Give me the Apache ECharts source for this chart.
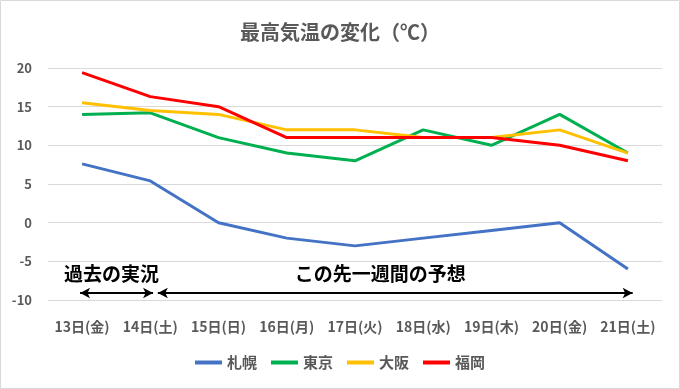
<!DOCTYPE html>
<html><head><meta charset="utf-8">
<script src="https://cdn.jsdelivr.net/npm/echarts@6/dist/echarts.min.js"></script>
<style>html,body{margin:0;padding:0;background:#fff}#c{width:680px;height:389px}</style>
</head><body><div id="c"></div>
<script>
const categories = ['13日(金)','14日(土)','15日(日)','16日(月)','17日(火)','18日(水)','19日(木)','20日(金)','21日(土)'];
const sapporo = [7.6, 5.4, 0, -2, -3, -2, -1, 0, -6];
const tokyo = [14, 14.2, 11, 9, 8, 12, 10, 14, 9];
const osaka = [15.5, 14.5, 14, 12, 12, 11, 11, 12, 9];
const fukuoka = [19.4, 16.3, 15, 11, 11, 11, 11, 10, 8];
const seriesNames = ['札幌','東京','大阪','福岡'];
const yTicks = {min: -10, max: 20, interval: 5};
// annotation spans, in category-index units (past observations / forecast)
const pastSpan = [-0.03, 1.04];
const forecastSpan = [1.11, 8.07];
const annotationTexts = ['過去の実況', 'この先一週間の予想'];

const colors = ['#4472C4','#00B050','#FFC000','#FF0000'];
const font = '"Noto Sans CJK JP", "Noto Sans", sans-serif';

const chart = echarts.init(document.getElementById('c'));
const dataSets = [sapporo, tokyo, osaka, fukuoka];
const series = dataSets.map((d, i) => ({
  name: seriesNames[i], type: 'line', data: d, symbol: 'none',
  lineStyle: {width: 3, color: colors[i]}, itemStyle: {color: colors[i]}, z: 3 + i
}));
// annotation carrier on a hidden value x-axis aligned to category centres
series.push({
  name: 'annot', type: 'scatter', xAxisIndex: 1, data: [], silent: true,
  markLine: {
    silent: true, symbol: ['arrow','arrow'], symbolSize: [8, 10],
    lineStyle: {color: '#000', width: 2, type: 'solid'}, label: {show: false},
    data: [
      [{coord: [pastSpan[0], -9.1]}, {coord: [pastSpan[1], -9.1]}],
      [{coord: [forecastSpan[0], -9.1]}, {coord: [forecastSpan[1], -9.1]}]
    ]
  },
  markPoint: {
    silent: true, symbol: 'circle', symbolSize: 0,
    label: {show: true, color: '#000', fontSize: 19, fontWeight: 'bold', fontFamily: font, position: 'inside', formatter: p => p.name},
    data: [
      {name: annotationTexts[0], coord: [0.43, -6.6]},
      {name: annotationTexts[1], coord: [4.37, -6.6]}
    ]
  }
});

chart.setOption({
  animation: false,
  title: {text: '最高気温の変化（℃）', left: 'center', top: 17,
    textStyle: {color: '#595959', fontSize: 20, fontWeight: 'bold', fontFamily: font}},
  legend: {bottom: 14, left: 'center', itemWidth: 27, itemHeight: 4, itemGap: 14, icon: 'rect',
    textStyle: {color: '#595959', fontSize: 15, fontWeight: 'bold', fontFamily: font},
    data: seriesNames},
  grid: {left: 48, right: 18, top: 68, bottom: 89},
  xAxis: [{type: 'category', data: categories, boundaryGap: true,
    axisLine: {show: false}, axisTick: {show: false},
    axisLabel: {color: '#595959', fontSize: 14, fontWeight: 'bold', fontFamily: font, margin: 20, interval: 0}},
    {type: 'value', min: -0.5, max: 8.5, show: false}],
  yAxis: {type: 'value', min: yTicks.min, max: yTicks.max, interval: yTicks.interval,
    axisLine: {show: false}, axisTick: {show: false},
    axisLabel: {color: '#595959', fontSize: 13, fontWeight: 'bold', fontFamily: font, margin: 16},
    splitLine: {lineStyle: {color: '#d9d9d9', width: 1}}},
  graphic: [{type: 'rect', shape: {x: 0.5, y: 0.5, width: 679, height: 388},
    style: {fill: 'none', stroke: '#d9d9d9', lineWidth: 1}, silent: true}],
  series: series
});
</script></body></html>
